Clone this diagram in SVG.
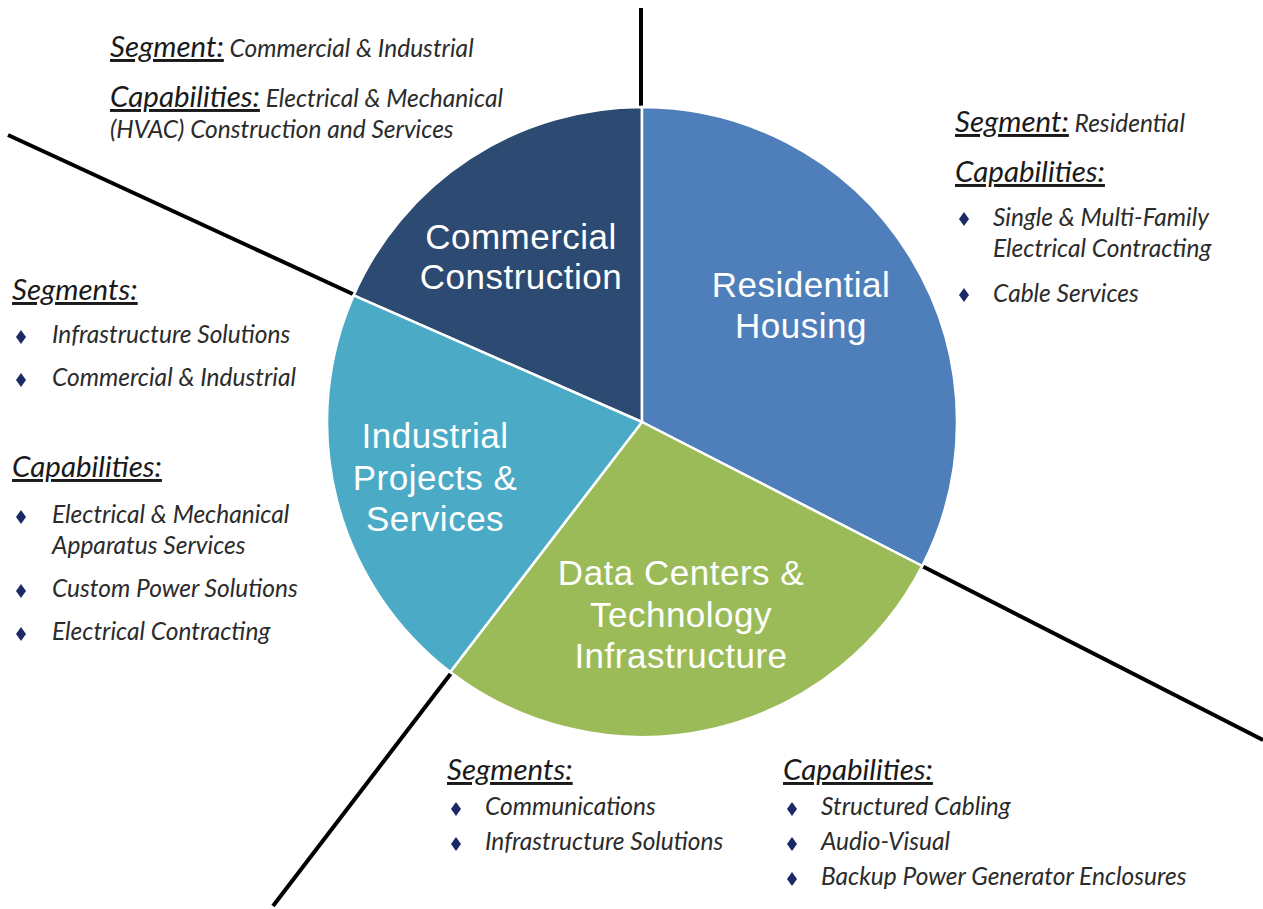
<svg xmlns="http://www.w3.org/2000/svg" width="1263" height="909" viewBox="0 0 1263 909">
<style>
.hd{font-family:Lato,"Open Sans",sans-serif;font-style:italic;font-size:29.5px;fill:#1a1a1a;text-decoration:underline}
.it{font-family:Lato,"Open Sans",sans-serif;font-style:italic;font-size:24.5px;fill:#2b2b2b}
.lb{font-family:"Liberation Sans",Arial,sans-serif;font-size:35px;fill:#ffffff;text-anchor:middle;letter-spacing:0.5px}
.sl{stroke:#ffffff;stroke-width:2.5}
.bl{stroke:#000000;stroke-width:4;fill:none}
.dm{fill:#1b2a66}
</style>
<defs>
<path id="dia" d="M0,-7 L5,0 L0,7 L-5,0 Z"/>
</defs>
<rect width="1263" height="909" fill="#ffffff"/>
<g id="connectors">
<line class="bl" x1="641" y1="8" x2="641" y2="108"/>
<line class="bl" x1="8" y1="135" x2="355" y2="295"/>
<line class="bl" x1="922" y1="566" x2="1263" y2="740"/>
<line class="bl" x1="452" y1="672" x2="273" y2="906"/>
</g>
<g id="commercial">
<path class="sl" fill="#2c4a72" d="M642,422 L353.6,295.4 A315,315 0 0,1 642,107 Z"/>
<text class="lb" x="521" y="249">Commercial</text>
<text class="lb" x="521" y="289">Construction</text>
</g>
<g id="residential">
<path class="sl" fill="#4f7fba" d="M642,422 L642,107 A315,315 0 0,1 922.2,566 Z"/>
<text class="lb" x="801" y="297">Residential</text>
<text class="lb" x="801" y="338">Housing</text>
</g>
<g id="datacenters">
<path class="sl" fill="#9bbb59" d="M642,422 L922.2,566 A315,315 0 0,1 450.2,671.9 Z"/>
<text class="lb" x="681" y="585">Data Centers &amp;</text>
<text class="lb" x="681" y="627">Technology</text>
<text class="lb" x="681" y="668">Infrastructure</text>
</g>
<g id="industrial">
<path class="sl" fill="#4baac5" d="M642,422 L450.2,671.9 A315,315 0 0,1 353.6,295.4 Z"/>
<text class="lb" x="435" y="448">Industrial</text>
<text class="lb" x="435" y="490">Projects &amp;</text>
<text class="lb" x="435" y="531">Services</text>
</g>
<g id="info-commercial">
<text x="110" y="57"><tspan class="hd">Segment:</tspan><tspan class="it"> Commercial &amp; Industrial</tspan></text>
<text x="110" y="107"><tspan class="hd">Capabilities:</tspan><tspan class="it"> Electrical &amp; Mechanical</tspan></text>
<text class="it" x="110" y="138">(HVAC) Construction and Services</text>
</g>
<g id="info-residential">
<text x="955" y="132"><tspan class="hd">Segment:</tspan><tspan class="it"> Residential</tspan></text>
<text class="hd" x="955" y="182">Capabilities:</text>
<use href="#dia" class="dm" x="964" y="219"/>
<text class="it" x="993" y="226">Single &amp; Multi-Family</text>
<text class="it" x="993" y="257">Electrical Contracting</text>
<use href="#dia" class="dm" x="964" y="295"/>
<text class="it" x="993" y="302">Cable Services</text>
</g>
<g id="info-industrial">
<text class="hd" x="12" y="300">Segments:</text>
<use href="#dia" class="dm" x="21" y="337"/>
<text class="it" x="52" y="343">Infrastructure Solutions</text>
<use href="#dia" class="dm" x="21" y="380"/>
<text class="it" x="52" y="386">Commercial &amp; Industrial</text>
<text class="hd" x="12" y="477">Capabilities:</text>
<use href="#dia" class="dm" x="21" y="517"/>
<text class="it" x="52" y="523">Electrical &amp; Mechanical</text>
<text class="it" x="52" y="554">Apparatus Services</text>
<use href="#dia" class="dm" x="21" y="591"/>
<text class="it" x="52" y="597">Custom Power Solutions</text>
<use href="#dia" class="dm" x="21" y="634"/>
<text class="it" x="52" y="640">Electrical Contracting</text>
</g>
<g id="info-datacenters">
<text class="hd" x="447" y="780">Segments:</text>
<use href="#dia" class="dm" x="456" y="809"/>
<text class="it" x="485" y="815">Communications</text>
<use href="#dia" class="dm" x="456" y="844"/>
<text class="it" x="485" y="850">Infrastructure Solutions</text>
<text class="hd" x="783" y="780">Capabilities:</text>
<use href="#dia" class="dm" x="792" y="809"/>
<text class="it" x="821" y="815">Structured Cabling</text>
<use href="#dia" class="dm" x="792" y="844"/>
<text class="it" x="821" y="850">Audio-Visual</text>
<use href="#dia" class="dm" x="792" y="879"/>
<text class="it" x="821" y="885">Backup Power Generator Enclosures</text>
</g>
</svg>
